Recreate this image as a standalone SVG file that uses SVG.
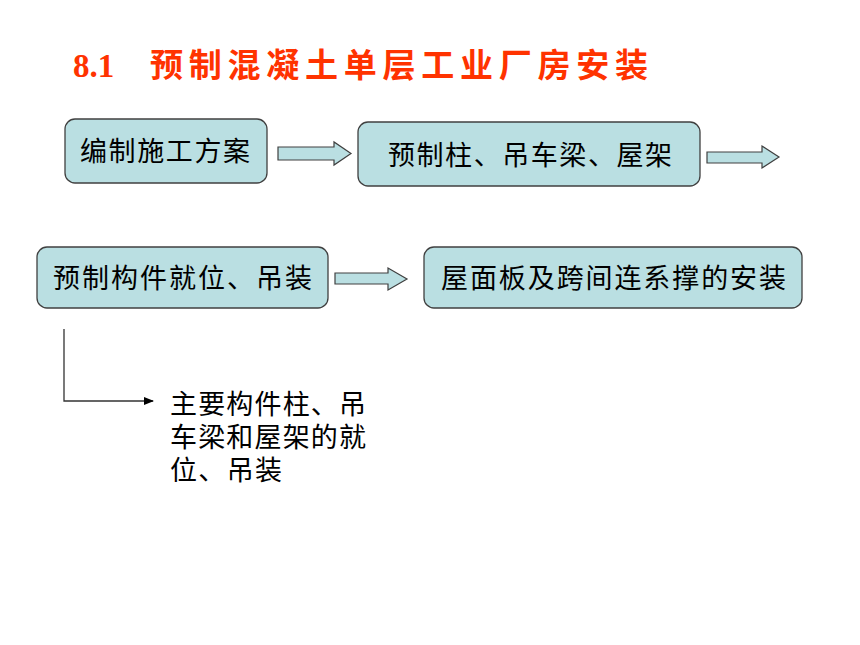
<svg xmlns="http://www.w3.org/2000/svg" width="860" height="645" viewBox="0 0 860 645">
<defs>
<style>
.box{fill:#BADFE2;stroke:#404040;stroke-width:1.3}
.arr{fill:#BADFE2;stroke:#404040;stroke-width:1.2}
.t{font-family:"Noto Sans CJK SC","Liberation Sans",sans-serif;font-size:27px;fill:#000}
.title{font-family:"Liberation Serif","Noto Sans CJK SC",serif;font-weight:bold;font-size:33px;fill:#FF3300}
.ttl2{font-family:"Noto Sans CJK SC","Liberation Sans",sans-serif;font-weight:bold;font-size:33px;fill:#FF3300}
</style>
<marker id="ah" markerWidth="10" markerHeight="8" refX="9" refY="4" orient="auto" markerUnits="userSpaceOnUse">
<path d="M0,0 L10,4 L0,8 Z" fill="#000"/>
</marker>
</defs>
<rect width="860" height="645" fill="#fff"/>
<g id="title">
<text class="title" x="73" y="77">8.1</text>
<text class="ttl2" x="150" y="77" textLength="498" lengthAdjust="spacing">预制混凝土单层工业厂房安装</text>
</g>
<g id="n1">
<rect class="box" x="65" y="119" width="202" height="64" rx="10"/>
<text class="t" x="80" y="161" textLength="170" lengthAdjust="spacing">编制施工方案</text>
</g>
<g id="n2">
<rect class="box" x="358" y="122" width="342" height="64" rx="10"/>
<text class="t" x="388" y="165" textLength="284" lengthAdjust="spacing">预制柱、吊车梁、屋架</text>
</g>
<g id="n3">
<rect class="box" x="37" y="247" width="291" height="61" rx="10"/>
<text class="t" x="53" y="288" textLength="259" lengthAdjust="spacing">预制构件就位、吊装</text>
</g>
<g id="n4">
<rect class="box" x="424" y="247" width="378" height="61" rx="10"/>
<text class="t" x="441" y="288" textLength="345" lengthAdjust="spacing">屋面板及跨间连系撑的安装</text>
</g>
<g id="n5">
<text class="t" x="170" y="414" textLength="196" lengthAdjust="spacing">主要构件柱、吊</text>
<text class="t" x="170" y="447" textLength="196" lengthAdjust="spacing">车梁和屋架的就</text>
<text class="t" x="170" y="480" textLength="112" lengthAdjust="spacing">位、吊装</text>
</g>
<g id="connectors">
<path class="arr" d="M278,147 L334,147 L334,142 L351,153.5 L334,165 L334,160 L278,160 Z"/>
<path class="arr" d="M707,152 L762,152 L762,146 L779,157 L762,168 L762,163 L707,163 Z"/>
<path class="arr" d="M335,273 L388,273 L388,268 L407,279 L388,290 L388,284 L335,284 Z"/>
<path d="M64,329 L64,401 L153,401" fill="none" stroke="#333" stroke-width="1.3" marker-end="url(#ah)"/>
</g>
</svg>
